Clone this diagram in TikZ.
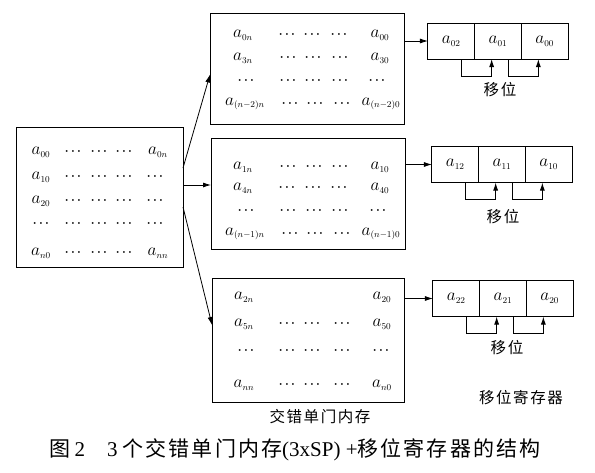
\documentclass[tikz,border=0pt]{standalone}
\usepackage{fontspec}
\setmainfont{Liberation Serif}
\newfontfamily\cjk[LetterSpace=10]{Noto Sans CJK SC}
\usetikzlibrary{arrows.meta, positioning}

\newcommand{\ael}[1]{$a_{\scriptscriptstyle #1}$}
\newcommand{\dts}{{\fontsize{13}{16}\selectfont\boldmath$\cdots$}}

\tikzset{
  membox/.style={draw, line width=1pt, inner sep=0pt, outer sep=0pt},
  regcell/.style={draw, line width=1pt, minimum width=46.7pt, minimum height=36pt,
    inner sep=0pt, outer sep=0pt, font=\fontsize{19}{22}\selectfont},
  elem/.style={inner sep=1pt, font=\fontsize{19}{22}\selectfont},
  arr/.style={-{Latex[length=8pt,width=5pt]}, line width=0.8pt},
  shiftline/.style={arr, line width=1pt},
  cjklabel/.style={inner sep=1pt, font=\cjk\fontsize{15.5}{18}\selectfont}
}

\begin{document}
\begin{tikzpicture}[x=1pt, y=-1pt]
  \useasboundingbox (0,0) rectangle (595,472);

  % source matrix
  \node[membox, minimum width=167pt, minimum height=140pt] (src) at (99.5,197) {};
  \foreach \t/\x [count=\i] in {\ael{00}/41, \dts/73, \dts/99, \dts/124, \ael{0n}/158}
    \node[elem] (s1\i) at (\x,152) {\t};
  \foreach \t/\x [count=\i] in {\ael{10}/41, \dts/73, \dts/99, \dts/124, \dts/155}
    \node[elem] (s2\i) at (\x,177) {\t};
  \foreach \t/\x [count=\i] in {\ael{20}/41, \dts/73, \dts/99, \dts/124, \dts/155}
    \node[elem] (s3\i) at (\x,201) {\t};
  \foreach \t/\x [count=\i] in {\dts/41, \dts/73, \dts/99, \dts/124, \dts/155}
    \node[elem] (s4\i) at (\x,224) {\t};
  \foreach \t/\x [count=\i] in {\ael{n0}/41, \dts/73, \dts/99, \dts/124, \ael{nn}/158}
    \node[elem] (s5\i) at (\x,253) {\t};

  % interleaved single-port memories
  \node[membox, minimum width=194pt, minimum height=111pt] (m0) at (307,68.5) {};
  \foreach \t/\x [count=\i] in {\ael{0n}/243, \dts/287, \dts/312, \dts/339, \ael{00}/380}
    \node[elem] (p1\i) at (\x,35) {\t};
  \foreach \t/\x [count=\i] in {\ael{3n}/243, \dts/288, \dts/313, \dts/340, \ael{30}/380}
    \node[elem] (p2\i) at (\x,58) {\t};
  \foreach \t/\x [count=\i] in {\dts/246, \dts/288, \dts/313, \dts/340, \dts/377}
    \node[elem] (p3\i) at (\x,81) {\t};
  \foreach \t/\x [count=\i] in {\ael{(n-2)n}/245, \dts/290, \dts/315, \dts/342, \ael{(n-2)0}/381}
    \node[elem] (p4\i) at (\x,104) {\t};

  \node[membox, minimum width=194pt, minimum height=111pt] (m1) at (308,193.5) {};
  \foreach \t/\x [count=\i] in {\ael{1n}/243, \dts/288, \dts/314, \dts/340, \ael{10}/380}
    \node[elem] (q1\i) at (\x,167) {\t};
  \foreach \t/\x [count=\i] in {\ael{4n}/243, \dts/287, \dts/313, \dts/339, \ael{40}/380}
    \node[elem] (q2\i) at (\x,188) {\t};
  \foreach \t/\x [count=\i] in {\dts/246, \dts/288, \dts/314, \dts/340, \dts/378}
    \node[elem] (q3\i) at (\x,211) {\t};
  \foreach \t/\x [count=\i] in {\ael{(n-1)n}/245, \dts/290, \dts/315, \dts/342, \ael{(n-1)0}/381}
    \node[elem] (q4\i) at (\x,234) {\t};

  \node[membox, minimum width=192pt, minimum height=124pt] (m2) at (308,340) {};
  \node[elem] (w11) at (244,297) {\ael{2n}};
  \node[elem] (w15) at (382,297) {\ael{20}};
  \foreach \t/\x [count=\i] in {\ael{5n}/244, \dts/287, \dts/312, \dts/342, \ael{50}/382}
    \node[elem] (w2\i) at (\x,324) {\t};
  \foreach \t/\x [count=\i] in {\dts/246, \dts/287, \dts/312, \dts/342, \dts/381}
    \node[elem] (w3\i) at (\x,351) {\t};
  \foreach \t/\x [count=\i] in {\ael{nn}/244, \dts/287, \dts/312, \dts/342, \ael{n0}/382}
    \node[elem] (w4\i) at (\x,385) {\t};
  \node[cjklabel] (memlab) at (320,417) {交错单门内存};

  % fan-out from source
  \coordinate (fanmid) at ([yshift=12pt]src.east);
  \draw[arr] ([yshift=29pt]src.east) -- ([yshift=-6pt]m0.west);
  \draw[arr] (fanmid) -- (m1.west |- fanmid);
  \draw[arr] ([yshift=-10pt]src.east) -- ([yshift=15pt]m2.west);

  % shift registers
  \node[regcell] (r0a) at (451.3,41) {\ael{02}};
  \node[regcell, right=0pt of r0a] (r0b) {\ael{01}};
  \node[regcell, right=0pt of r0b] (r0c) {\ael{00}};
  \node[regcell] (r1a) at (455.3,164.5) {\ael{12}};
  \node[regcell, right=0pt of r1a] (r1b) {\ael{11}};
  \node[regcell, right=0pt of r1b] (r1c) {\ael{10}};
  \node[regcell] (r2a) at (456.3,298.5) {\ael{22}};
  \node[regcell, right=0pt of r2a] (r2b) {\ael{21}};
  \node[regcell, right=0pt of r2b] (r2c) {\ael{20}};

  \draw[arr] (m0.east |- r0a.west) -- (r0a.west);
  \draw[arr] (m1.east |- r1a.west) -- (r1a.west);
  \draw[arr] (m2.east |- r2a.west) -- (r2a.west);

  \foreach \r in {0,1,2} {
    \draw[shiftline] ([xshift=-13pt]r\r a.south east) -- ++(0,17) -| ([xshift=17pt]r\r b.south west);
    \draw[shiftline] ([xshift=-13pt]r\r b.south east) -- ++(0,17) -| ([xshift=17pt]r\r c.south west);
  }
  \node[cjklabel] (sh0) at (500,90) {移位};
  \node[cjklabel] (sh1) at (503,217) {移位};
  \node[cjklabel] (sh2) at (507,348) {移位};
  \node[cjklabel] (reglab) at (521,398) {移位寄存器};

  % caption
  \node[inner sep=0pt, font=\fontsize{21}{25}\selectfont] (cap) at (295,450)
    {{\cjk 图}\hspace{4pt}2\hspace{22pt}3\hspace{5pt}{\cjk 个交错单门内存}(3xSP) +{\cjk 移位寄存器的结构}};
\end{tikzpicture}
\end{document}
